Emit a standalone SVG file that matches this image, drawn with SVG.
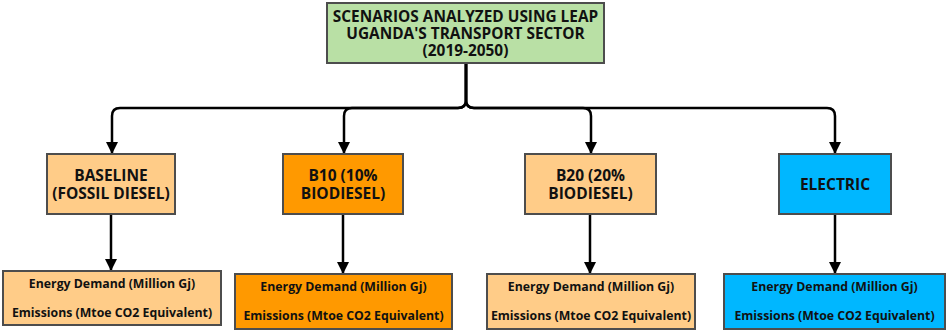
<svg xmlns="http://www.w3.org/2000/svg" width="948" height="332" viewBox="0 0 948 332">
<style>
.box{stroke:#4d4d4d;stroke-width:2}
.t{font-family:"Open Sans","Noto Sans",sans-serif;font-weight:bold;fill:#111;text-anchor:middle}
.h{font-size:15.4px}
.m{font-size:15.5px}
.s{font-size:12.3px}
.c{fill:none;stroke:#000;stroke-width:2.5;marker-end:url(#ah)}
</style>
<defs>
<marker id="ah" markerWidth="12" markerHeight="12" viewBox="0 0 12 12" refX="11" refY="6" orient="auto" markerUnits="userSpaceOnUse">
<path d="M0,0 L12,6 L0,12 Z" fill="#000"/>
</marker>
</defs>
<rect width="948" height="332" fill="#fff"/>
<g id="connectors">
<path class="c" d="M466,63 V100 Q466,108 458,108 H120 Q112,108 112,116 V153"/>
<path class="c" d="M466,63 V100 Q466,108 458,108 H352 Q344,108 344,116 V153"/>
<path class="c" d="M466,63 V100 Q466,108 474,108 H583 Q591,108 591,116 V153"/>
<path class="c" d="M466,63 V100 Q466,108 474,108 H827 Q835,108 835,116 V153"/>
<path class="c" d="M111,214 V270"/>
<path class="c" d="M343,214 V273"/>
<path class="c" d="M590,214 V273"/>
<path class="c" d="M835,214 V273"/>
</g>
<g id="top">
<rect class="box" x="327" y="3" width="277" height="60" fill="#b9e0a5"/>
<text class="t h" x="465.5" y="22">SCENARIOS ANALYZED USING LEAP</text>
<text class="t h" x="465.5" y="39">UGANDA'S TRANSPORT SECTOR</text>
<text class="t h" x="465.5" y="56">(2019-2050)</text>
</g>
<g id="baseline">
<rect class="box" x="47" y="154" width="128" height="60" fill="#ffcc88"/>
<text class="t m" x="111" y="181">BASELINE</text>
<text class="t m" x="111" y="199">(FOSSIL DIESEL)</text>
</g>
<g id="b10">
<rect class="box" x="283" y="154" width="120" height="60" fill="#ff9900"/>
<text class="t m" x="343" y="181">B10 (10%</text>
<text class="t m" x="343" y="199">BIODIESEL)</text>
</g>
<g id="b20">
<rect class="box" x="525" y="154" width="131" height="60" fill="#ffcc88"/>
<text class="t m" x="590.5" y="181">B20 (20%</text>
<text class="t m" x="590.5" y="199">BIODIESEL)</text>
</g>
<g id="electric">
<rect class="box" x="779" y="154" width="112" height="60" fill="#00b7ff"/>
<text class="t m" x="835" y="190">ELECTRIC</text>
</g>
<g id="baseline-out">
<rect class="box" x="3" y="271" width="218" height="54" fill="#ffcc88"/>
<text class="t s" x="112" y="288">Energy Demand (Million Gj)</text>
<text class="t s" x="112" y="317">Emissions (Mtoe CO2 Equivalent)</text>
</g>
<g id="b10-out">
<rect class="box" x="235" y="274" width="217" height="55" fill="#ff9900"/>
<text class="t s" x="343.5" y="291">Energy Demand (Million Gj)</text>
<text class="t s" x="343.5" y="320">Emissions (Mtoe CO2 Equivalent)</text>
</g>
<g id="b20-out">
<rect class="box" x="487" y="274" width="208" height="55" fill="#ffcc88"/>
<text class="t s" x="591" y="291">Energy Demand (Million Gj)</text>
<text class="t s" x="591" y="320">Emissions (Mtoe CO2 Equivalent)</text>
</g>
<g id="electric-out">
<rect class="box" x="724" y="274" width="221" height="55" fill="#00b7ff"/>
<text class="t s" x="834.5" y="291">Energy Demand (Million Gj)</text>
<text class="t s" x="834.5" y="320">Emissions (Mtoe CO2 Equivalent)</text>
</g>
</svg>
